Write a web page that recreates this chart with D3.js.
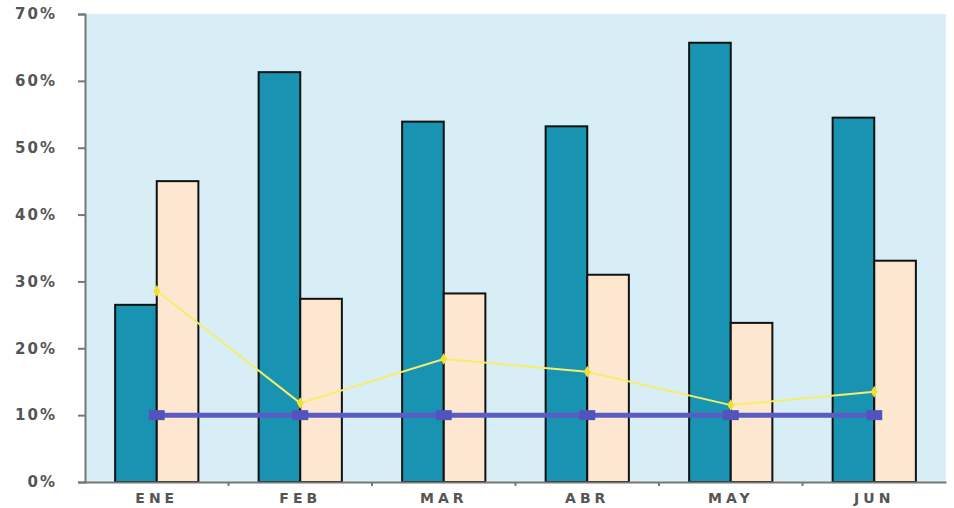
<!DOCTYPE html>
<html>
<head>
<meta charset="utf-8">
<script src="https://cdn.jsdelivr.net/npm/d3@7"></script>
<style>
  body { margin: 0; background: #fff; }
  text { font-family: "DejaVu Sans", sans-serif; font-weight: bold; fill: #555; }
</style>
</head>
<body>
<script>
// months and series (percent)
var months = ["ENE", "FEB", "MAR", "ABR", "MAY", "JUN"];
var serieA = [26.5, 61.3, 53.9, 53.2, 65.7, 54.5];   // teal bars
var serieB = [45.0, 27.4, 28.2, 31.0, 23.8, 33.1];   // peach bars
var lineaAmarilla = [28.6, 11.8, 18.4, 16.5, 11.5, 13.5];
var lineaAzul = [10, 10, 10, 10, 10, 10];
var yTicks = [0, 10, 20, 30, 40, 50, 60, 70];

var W = 954, H = 508;
var mIzq = 85, mDer = 946, mSup = 14, mInf = 482;

var svg = d3.select("body").append("svg")
  .attr("width", W)
  .attr("height", H);

var x0 = d3.scaleBand().domain(months).range([mIzq, mDer])
  .paddingInner(0.42).paddingOuter(0.21);
var x1 = d3.scaleBand().domain(["a", "b"]).range([0, x0.bandwidth()]);
var y = d3.scaleLinear().domain([0, 70]).range([mInf, mSup]);

// plot background
svg.append("rect")
  .attr("x", mIzq).attr("y", mSup)
  .attr("width", mDer - mIzq).attr("height", mInf - mSup)
  .attr("fill", "#d7eef6");

// bars
var grupos = svg.selectAll("g.mes").data(months).enter().append("g")
  .attr("class", "mes")
  .attr("transform", function(d) { return "translate(" + x0(d) + ",0)"; });

grupos.append("rect")
  .attr("x", x1("a"))
  .attr("y", function(d, i) { return y(serieA[i]); })
  .attr("width", x1.bandwidth())
  .attr("height", function(d, i) { return mInf - y(serieA[i]); })
  .attr("fill", "#1894b2")
  .attr("stroke", "#111")
  .attr("stroke-width", 2);

grupos.append("rect")
  .attr("x", x1("b"))
  .attr("y", function(d, i) { return y(serieB[i]); })
  .attr("width", x1.bandwidth())
  .attr("height", function(d, i) { return mInf - y(serieB[i]); })
  .attr("fill", "#fde7d0")
  .attr("stroke", "#111")
  .attr("stroke-width", 2);

function centro(d) { return x0(d) + x0.bandwidth() / 2; }

// yellow line
var lineaY = d3.line()
  .x(function(d, i) { return centro(months[i]); })
  .y(function(d) { return y(d); });

svg.append("path")
  .attr("d", lineaY(lineaAmarilla))
  .attr("fill", "none")
  .attr("stroke", "#f6ee6a")
  .attr("stroke-width", 2);

svg.selectAll("path.marcaY").data(lineaAmarilla).enter().append("path")
  .attr("class", "marcaY")
  .attr("d", d3.symbol().type(d3.symbolDiamond).size(40))
  .attr("transform", function(d, i) { return "translate(" + centro(months[i]) + "," + y(d) + ")"; })
  .attr("fill", "#f2e030");

// blue line
svg.append("path")
  .attr("d", lineaY(lineaAzul))
  .attr("fill", "none")
  .attr("stroke", "#5a5cc4")
  .attr("stroke-width", 5);

svg.selectAll("rect.marcaA").data(lineaAzul).enter().append("rect")
  .attr("class", "marcaA")
  .attr("x", function(d, i) { return centro(months[i]) - 8; })
  .attr("y", function(d) { return y(d) - 5; })
  .attr("width", 16).attr("height", 10)
  .attr("fill", "#5254bd");

// axes
var ejeY = svg.append("g")
  .attr("transform", "translate(" + mIzq + ",0)")
  .call(d3.axisLeft(y).tickValues(yTicks).tickSize(7).tickPadding(21)
    .tickFormat(function(d) { return d + "%"; }));
ejeY.select(".domain").attr("stroke", "#777").attr("stroke-width", 2);
ejeY.selectAll(".tick line").attr("stroke", "#777").attr("stroke-width", 2);
ejeY.selectAll("text").style("font-size", "15px").attr("fill", "#555")
  .style("letter-spacing", "2px");

var ejeX = svg.append("g")
  .attr("transform", "translate(0," + mInf + ")")
  .call(d3.axisBottom(x0).tickSize(0).tickPadding(11));
ejeX.select(".domain").attr("stroke", "#777").attr("stroke-width", 2);
ejeX.selectAll("text").style("font-size", "14px").attr("fill", "#555")
  .style("letter-spacing", "4px");

// small ticks between months
svg.selectAll("line.sep").data(months.slice(1)).enter().append("line")
  .attr("class", "sep")
  .attr("x1", function(d) { return x0(d) - x0.step() * x0.paddingInner() / 2; })
  .attr("x2", function(d) { return x0(d) - x0.step() * x0.paddingInner() / 2; })
  .attr("y1", mInf).attr("y2", mInf + 4)
  .attr("stroke", "#777").attr("stroke-width", 2);
</script>
</body>
</html>
